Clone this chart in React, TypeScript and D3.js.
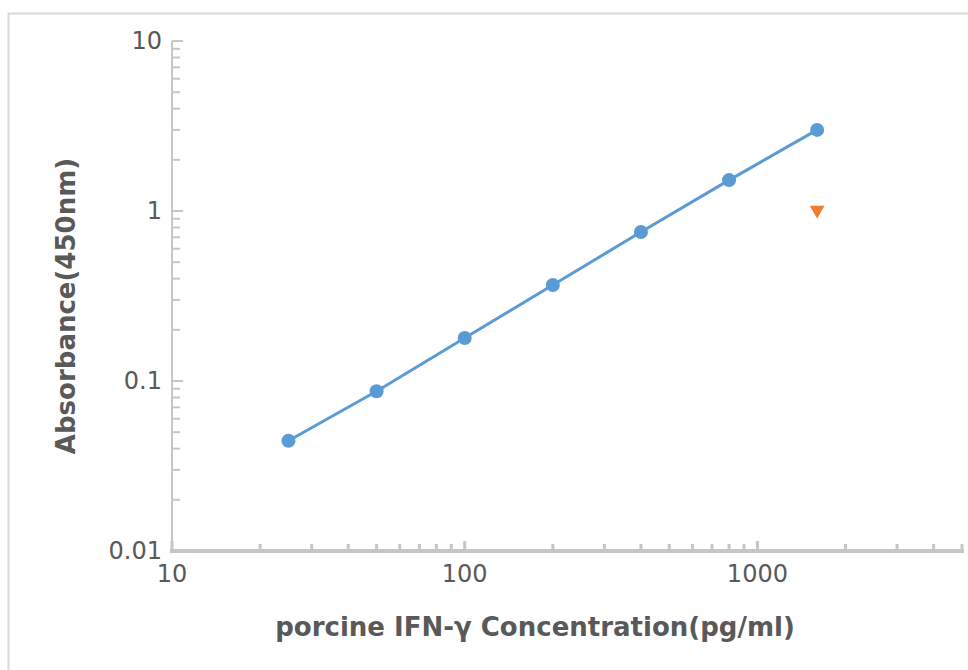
import * as d3 from 'd3';
import { useEffect, useRef } from 'react';

// standard curve, concentration (pg/ml) vs OD450
const concentrations = [25, 50, 100, 200, 400, 800, 1600];
const absorbance = [0.0445, 0.087, 0.179, 0.367, 0.752, 1.52, 3.0];
const sampleX = [1600];
const sampleY = [1.0];

const xTickLabels = [10, 100, 1000];
const yTickLabels = [0.01, 0.1, 1, 10];

const W = 968;
const H = 670;

export default function App() {
  const svgRef = useRef<SVGSVGElement>(null);

  useEffect(() => {
    if (!svgRef.current) return;
    const svg = d3.select(svgRef.current);
    svg.selectAll('*').remove();

    const font = '"DejaVu Sans", Verdana, sans-serif';
    const textColor = '#595959';
    const axisColor = '#c6c6c6';

    // frame
    svg.append('path')
      .attr('d', `M8.5,${H} L8.5,13.5 L${W},13.5`)
      .attr('fill', 'none')
      .attr('stroke', '#d9d9d9')
      .attr('stroke-width', 2);

    const x = d3.scaleLog().domain([10, 5000]).range([172, 962]);
    const y = d3.scaleLog().domain([0.01, 10]).range([551, 41]);

    // y axis
    svg.append('line')
      .attr('x1', 172).attr('x2', 172)
      .attr('y1', y(10)).attr('y2', y(0.01))
      .attr('stroke', axisColor).attr('stroke-width', 2);

    const yMinor: number[] = [];
    for (let e = -2; e < 1; e++) {
      for (let m = 2; m <= 9; m++) yMinor.push(m * Math.pow(10, e));
    }
    svg.append('g').selectAll('line')
      .data(yMinor)
      .enter().append('line')
      .attr('x1', 172).attr('x2', 180)
      .attr('y1', d => y(d)).attr('y2', d => y(d))
      .attr('stroke', axisColor).attr('stroke-width', 2);

    svg.append('g').selectAll('line')
      .data(yTickLabels)
      .enter().append('line')
      .attr('x1', 172).attr('x2', 183)
      .attr('y1', d => y(d)).attr('y2', d => y(d))
      .attr('stroke', axisColor).attr('stroke-width', 2);

    svg.append('g').selectAll('text')
      .data(yTickLabels)
      .enter().append('text')
      .attr('x', 162)
      .attr('y', d => y(d))
      .attr('dy', '0.35em')
      .attr('text-anchor', 'end')
      .style('font-family', font)
      .style('font-size', '24px')
      .style('fill', textColor)
      .text(d => String(d));

    // x axis
    svg.append('line')
      .attr('x1', 170).attr('x2', 964)
      .attr('y1', 551).attr('y2', 551)
      .attr('stroke', axisColor).attr('stroke-width', 4);

    const xMinor: number[] = [];
    for (let e = 1; e <= 3; e++) {
      for (let m = 2; m <= 9; m++) {
        const v = m * Math.pow(10, e);
        if (v <= 5000) xMinor.push(v);
      }
    }
    svg.append('g').selectAll('line')
      .data(xMinor)
      .enter().append('line')
      .attr('x1', d => x(d)).attr('x2', d => x(d))
      .attr('y1', 551).attr('y2', 544)
      .attr('stroke', axisColor).attr('stroke-width', 3);

    svg.append('g').selectAll('line')
      .data(xTickLabels)
      .enter().append('line')
      .attr('x1', d => x(d)).attr('x2', d => x(d))
      .attr('y1', 551).attr('y2', 541)
      .attr('stroke', axisColor).attr('stroke-width', 3);

    svg.append('g').selectAll('text')
      .data(xTickLabels)
      .enter().append('text')
      .attr('x', d => x(d))
      .attr('y', 582)
      .attr('text-anchor', 'middle')
      .style('font-family', font)
      .style('font-size', '24px')
      .style('fill', textColor)
      .text(d => String(d));

    // titles
    svg.append('text')
      .attr('x', 535)
      .attr('y', 636)
      .attr('text-anchor', 'middle')
      .style('font-family', font)
      .style('font-size', '26px')
      .style('font-weight', 'bold')
      .style('fill', textColor)
      .text('porcine IFN-γ Concentration(pg/ml)');

    svg.append('text')
      .attr('transform', 'rotate(-90)')
      .attr('x', -306)
      .attr('y', 75)
      .attr('text-anchor', 'middle')
      .style('font-family', font)
      .style('font-size', '26px')
      .style('font-weight', 'bold')
      .style('fill', textColor)
      .text('Absorbance(450nm)');

    // standard curve
    const pts = concentrations.map((c, i) => [c, absorbance[i]] as [number, number]);
    const line = d3.line<[number, number]>()
      .x(d => x(d[0]))
      .y(d => y(d[1]));

    svg.append('path')
      .datum(pts)
      .attr('d', line)
      .attr('fill', 'none')
      .attr('stroke', '#5b9bd5')
      .attr('stroke-width', 3);

    svg.append('g').selectAll('circle')
      .data(pts)
      .enter().append('circle')
      .attr('cx', d => x(d[0]))
      .attr('cy', d => y(d[1]))
      .attr('r', 7)
      .attr('fill', '#5b9bd5');

    // sample marker
    const tri = d3.symbol().type(d3.symbolTriangle).size(95);
    svg.append('g').selectAll('path')
      .data(sampleX.map((c, i) => [c, sampleY[i]]))
      .enter().append('path')
      .attr('d', tri)
      .attr('transform', d => `translate(${x(d[0])},${y(d[1]) - 1}) rotate(180)`)
      .attr('fill', '#ed7d31');
  }, []);

  return (
    <svg
      ref={svgRef}
      width={W}
      height={H}
      style={{ position: 'absolute', left: 0, top: 0, background: '#fff' }}
    />
  );
}
